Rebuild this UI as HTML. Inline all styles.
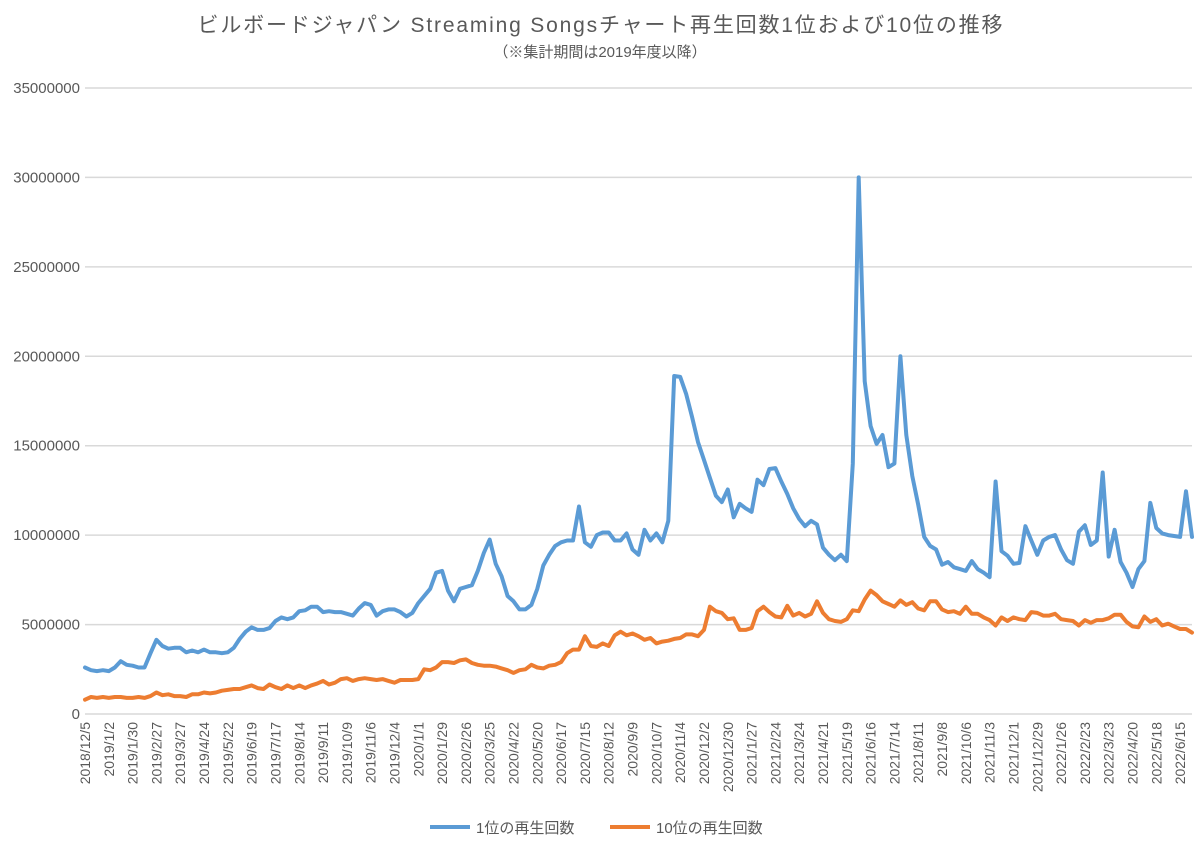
<!DOCTYPE html>
<html><head><meta charset="utf-8"><style>
body{margin:0;background:#fff;}
svg{display:block;font-family:"Liberation Sans","Noto Sans CJK JP",sans-serif;}
</style></head><body>
<svg id="chart" width="1200" height="847">
<text x="600" y="32" text-anchor="middle" font-size="21" fill="#595959" textLength="805" lengthAdjust="spacing">ビルボードジャパン Streaming Songsチャート再生回数1位および10位の推移</text>
<text x="600" y="57" text-anchor="middle" font-size="15" fill="#595959">（※集計期間は2019年度以降）</text>
<g id="grid"></g><g id="yticks"></g><g id="xticks"></g><g id="series"></g>
<g>
<line x1="430" y1="827" x2="470" y2="827" stroke="#5b9bd5" stroke-width="4"/>
<text x="476" y="833" font-size="15" fill="#595959">1位の再生回数</text>
<line x1="610" y1="827" x2="650" y2="827" stroke="#ed7d31" stroke-width="4"/>
<text x="656" y="833" font-size="15" fill="#595959">10位の再生回数</text>
</g>
</svg>
<script>
const rank1Values=[2.6,2.45,2.4,2.45,2.4,2.6,2.95,2.75,2.7,2.6,2.6,3.4,4.15,3.8,3.65,3.7,3.7,3.45,3.55,3.45,3.6,3.45,3.45,3.4,3.45,3.7,4.2,4.6,4.85,4.7,4.7,4.8,5.2,5.4,5.3,5.4,5.75,5.8,6.0,6.0,5.7,5.75,5.7,5.7,5.6,5.5,5.9,6.2,6.1,5.5,5.75,5.85,5.85,5.7,5.45,5.65,6.2,6.6,7.0,7.9,8.0,6.9,6.3,7.0,7.1,7.2,8.0,9.0,9.75,8.4,7.7,6.6,6.3,5.85,5.85,6.1,7.0,8.3,8.9,9.4,9.6,9.7,9.7,11.6,9.6,9.35,10.0,10.15,10.15,9.7,9.7,10.1,9.2,8.9,10.3,9.7,10.1,9.6,10.8,18.9,18.85,17.9,16.6,15.2,14.2,13.2,12.2,11.85,12.55,11.0,11.75,11.5,11.3,13.1,12.8,13.7,13.75,13.0,12.3,11.5,10.9,10.5,10.8,10.6,9.3,8.9,8.6,8.9,8.55,14.0,30.0,18.6,16.1,15.1,15.6,13.8,14.0,20.0,15.6,13.3,11.7,9.9,9.4,9.2,8.35,8.5,8.2,8.1,8.0,8.55,8.1,7.9,7.65,13.0,9.1,8.85,8.4,8.45,10.5,9.7,8.9,9.7,9.9,10.0,9.2,8.6,8.4,10.2,10.55,9.45,9.7,13.5,8.8,10.3,8.5,7.9,7.1,8.1,8.55,11.8,10.4,10.1,10.0,9.95,9.9,12.45,9.9];
const rank10Values=[0.8,0.95,0.9,0.95,0.9,0.95,0.95,0.9,0.9,0.95,0.9,1.0,1.2,1.05,1.1,1.0,1.0,0.95,1.1,1.1,1.2,1.15,1.2,1.3,1.35,1.4,1.4,1.5,1.6,1.45,1.4,1.65,1.5,1.4,1.6,1.45,1.6,1.45,1.6,1.7,1.85,1.65,1.75,1.95,2.0,1.85,1.95,2.0,1.95,1.9,1.95,1.85,1.75,1.9,1.9,1.9,1.95,2.5,2.45,2.6,2.9,2.9,2.85,3.0,3.05,2.85,2.75,2.7,2.7,2.65,2.55,2.45,2.3,2.45,2.5,2.75,2.6,2.55,2.7,2.75,2.9,3.4,3.6,3.6,4.35,3.8,3.75,3.95,3.8,4.4,4.6,4.4,4.5,4.35,4.15,4.25,3.95,4.05,4.1,4.2,4.25,4.45,4.45,4.35,4.7,6.0,5.75,5.65,5.3,5.35,4.7,4.7,4.8,5.75,6.0,5.7,5.45,5.4,6.05,5.5,5.65,5.45,5.6,6.3,5.65,5.3,5.2,5.15,5.3,5.8,5.75,6.4,6.9,6.65,6.3,6.15,6.0,6.35,6.1,6.25,5.9,5.8,6.3,6.3,5.85,5.7,5.75,5.6,6.0,5.6,5.6,5.4,5.25,4.95,5.4,5.2,5.4,5.3,5.25,5.7,5.65,5.5,5.5,5.6,5.3,5.25,5.2,4.95,5.25,5.1,5.25,5.25,5.35,5.55,5.55,5.15,4.9,4.85,5.45,5.15,5.3,4.95,5.05,4.9,4.75,4.75,4.55];
const yTickValues=[0,5000000,10000000,15000000,20000000,25000000,30000000,35000000];
const startDate=[2018,12,5];
const labelEvery=4;

const NS="http://www.w3.org/2000/svg";
const X0=85,X1=1192,Y0=714,YTOP=88,YMAX=35;
const n=rank1Values.length;
function xPos(i){return X0+(X1-X0)*i/(n-1);}
function yPos(m){return Y0-(Y0-YTOP)*m/YMAX;}
function mk(tag,attrs,parent){const e=document.createElementNS(NS,tag);for(const k in attrs)e.setAttribute(k,attrs[k]);parent.appendChild(e);return e;}
const grid=document.getElementById('grid'),yt=document.getElementById('yticks'),xt=document.getElementById('xticks'),ser=document.getElementById('series');
yTickValues.forEach(v=>{
  const y=yPos(v/1e6);
  const l=mk('line',{x1:X0,x2:X1,y1:y,y2:y,stroke:'#d9d9d9','stroke-width':1.5},grid);
  
  
  const t=mk('text',{x:80,y:y+5,'text-anchor':'end','font-size':15,fill:'#595959'},yt);
  t.textContent=String(v);
  
  
});
const d0=new Date(startDate[0],startDate[1]-1,startDate[2]);
for(let i=0;i<n;i+=labelEvery){
  const d=new Date(d0.getTime());d.setDate(d.getDate()+7*i);
  const s=d.getFullYear()+'/'+(d.getMonth()+1)+'/'+d.getDate();
  const x=xPos(i);
  const t=mk('text',{x:0,y:0,'text-anchor':'end','font-size':14,fill:'#595959',transform:'translate('+(x+5)+',722) rotate(-90)'},xt);
  t.textContent=s;
  
  
}
function drawLine(vals,color,name){
  const pts=vals.map((v,i)=>xPos(i).toFixed(1)+','+yPos(v).toFixed(1)).join(' ');
  const p=mk('polyline',{points:pts,fill:'none',stroke:color,'stroke-width':4,'stroke-linejoin':'round','stroke-linecap':'round'},ser);
  
  
}
drawLine(rank10Values,'#ed7d31','series-rank10-line');
drawLine(rank1Values,'#5b9bd5','series-rank1-line');
</script>
</body></html>
